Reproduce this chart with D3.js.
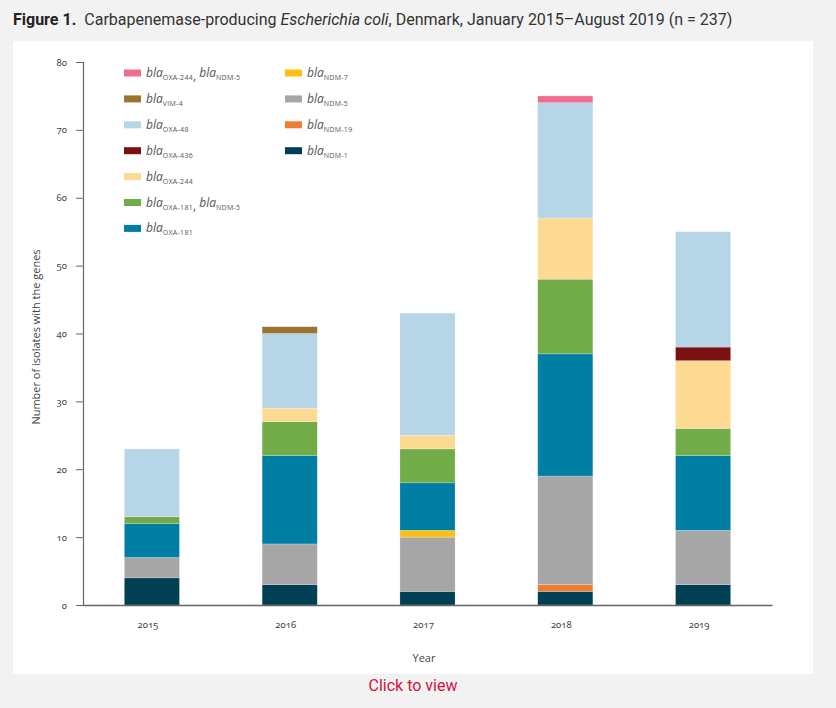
<!DOCTYPE html>
<html>
<head>
<meta charset="utf-8">
<script src="https://cdn.jsdelivr.net/npm/d3@7"></script>
<style>
  html, body { margin: 0; padding: 0; background: #f2f2f2; }
  svg { display: block; }
</style>
</head>
<body>
<svg id="chart" width="836" height="708"></svg>
<script>
// ---- Data ----
const years = ["2015", "2016", "2017", "2018", "2019"];
const ndm1       = [4, 3, 2, 2, 3];
const ndm19      = [0, 0, 0, 1, 0];
const ndm5       = [3, 6, 8, 16, 8];
const ndm7       = [0, 0, 1, 0, 0];
const oxa181     = [5, 13, 7, 18, 11];
const oxa181ndm5 = [1, 5, 5, 11, 4];
const oxa244     = [0, 2, 2, 9, 10];
const oxa436     = [0, 0, 0, 0, 2];
const oxa48      = [10, 11, 18, 17, 17];
const vim4       = [0, 1, 0, 0, 0];
const oxa244ndm5 = [0, 0, 0, 1, 0];
const yTicks = [0, 10, 20, 30, 40, 50, 60, 70, 80];

// series, bottom to top of the stack
const seriesKeys = ["ndm1","ndm19","ndm5","ndm7","oxa181","oxa181ndm5","oxa244","oxa436","oxa48","vim4","oxa244ndm5"];
const seriesValues = {ndm1, ndm19, ndm5, ndm7, oxa181, oxa181ndm5, oxa244, oxa436, oxa48, vim4, oxa244ndm5};
const seriesGenes = {
  ndm1: ["NDM-1"], ndm19: ["NDM-19"], ndm5: ["NDM-5"], ndm7: ["NDM-7"],
  oxa181: ["OXA-181"], oxa181ndm5: ["OXA-181", "NDM-5"], oxa244: ["OXA-244"],
  oxa436: ["OXA-436"], oxa48: ["OXA-48"], vim4: ["VIM-4"], oxa244ndm5: ["OXA-244", "NDM-5"]
};
const seriesColors = {
  ndm1: "#003f54", ndm19: "#ee7d31", ndm5: "#a6a6a6", ndm7: "#fdc010",
  oxa181: "#007ea3", oxa181ndm5: "#71ac48", oxa244: "#fdda92", oxa436: "#7a1214",
  oxa48: "#b6d5e6", vim4: "#9a7430", oxa244ndm5: "#f06d8c"
};
const legendCol1 = ["oxa244ndm5","vim4","oxa48","oxa436","oxa244","oxa181ndm5","oxa181"];
const legendCol2 = ["ndm7","ndm5","ndm19","ndm1"];

const table = years.map((yr, i) => {
  const row = {year: yr};
  seriesKeys.forEach(k => row[k] = seriesValues[k][i]);
  return row;
});

// ---- Layout ----
const svg = d3.select("#chart");
svg.append("rect").attr("x", 13).attr("y", 41).attr("width", 800).attr("height", 633).attr("fill", "#ffffff");

// title
const title = svg.append("text").attr("x", 13).attr("y", 25)
  .attr("font-family", "Roboto, sans-serif").attr("font-size", 16).attr("fill", "#333");
title.append("tspan").attr("font-weight", "bold").attr("fill", "#222").text("Figure 1.");
title.append("tspan").attr("dx", 8).text("Carbapenemase-producing ");
title.append("tspan").attr("font-style", "italic").text("Escherichia coli");
title.append("tspan").text(", Denmark, January 2015\u2013August 2019 (n = 237)");

const mLeft = 83, mRight = 772, mTop = 62, mBottom = 605;

const x = d3.scaleBand().domain(years).range([mLeft, mRight]).paddingInner(0.6).paddingOuter(0.3);
const y = d3.scaleLinear().domain([0, 80]).range([mBottom, mTop]);

const stacked = d3.stack().keys(seriesKeys)(table);

const g = svg.append("g");
g.selectAll("g.series").data(stacked).join("g")
  .attr("class", "series")
  .attr("fill", d => seriesColors[d.key])
  .selectAll("rect").data(d => d.filter(p => p[1] > p[0])).join("rect")
  .attr("x", d => x(d.data.year))
  .attr("width", x.bandwidth())
  .attr("y", d => y(d[1]))
  .attr("height", d => y(d[0]) - y(d[1]))
  .attr("stroke", "#ffffff").attr("stroke-opacity", 0.35).attr("stroke-width", 0.6);

// y axis
const yAxis = svg.append("g").attr("transform", `translate(${mLeft},0)`)
  .call(d3.axisLeft(y).tickValues(yTicks).tickSize(7).tickPadding(9));
yAxis.select(".domain").attr("stroke", "#666").attr("stroke-width", 1.2);
yAxis.selectAll(".tick line").attr("stroke", "#666");
yAxis.selectAll(".tick text").attr("font-family", "'Noto Sans', sans-serif").attr("font-size", 9.5)
  .attr("fill", "#444").style("font-variant-numeric", "oldstyle-nums");

// x axis
const xAxis = svg.append("g").attr("transform", `translate(0,${mBottom})`)
  .call(d3.axisBottom(x).tickSize(0).tickPadding(16));
xAxis.select(".domain").attr("stroke", "#666").attr("stroke-width", 1.6);
xAxis.selectAll(".tick text").attr("font-family", "'Noto Sans', sans-serif").attr("font-size", 9.5)
  .attr("fill", "#444").attr("dx", -4).style("font-variant-numeric", "oldstyle-nums");

// axis titles
svg.append("text").attr("x", 424).attr("y", 662).attr("text-anchor", "middle")
  .attr("font-family", "'Open Sans', sans-serif").attr("font-size", 11).attr("fill", "#444").text("Year");
svg.append("text").attr("transform", "translate(40,337) rotate(-90)").attr("text-anchor", "middle")
  .attr("font-family", "'Open Sans', sans-serif").attr("font-size", 11).attr("fill", "#444")
  .text("Number of isolates with the genes");

// legend
function drawLegend(keys, x0) {
  keys.forEach((k, i) => {
    const cy = 73 + i * 25.9;
    svg.append("rect").attr("x", x0).attr("y", cy - 3.5).attr("width", 17).attr("height", 7)
      .attr("fill", seriesColors[k]);
    const t = svg.append("text").attr("x", x0 + 22).attr("y", cy + 4)
      .attr("font-family", "'Open Sans', sans-serif").attr("fill", "#555");
    seriesGenes[k].forEach((gene, j) => {
      if (j > 0) t.append("tspan").attr("font-size", 12).text(",\u00a0");
      t.append("tspan").attr("font-size", 12).attr("font-style", "italic").attr("dy", j > 0 ? -3 : null).text("bla");
      t.append("tspan").attr("font-size", 7).attr("dy", 3).attr("letter-spacing", 0.3).text(gene);
    });
  });
}
drawLegend(legendCol1, 124);
drawLegend(legendCol2, 285);

// footer link
svg.append("text").attr("x", 413).attr("y", 691).attr("text-anchor", "middle")
  .attr("font-family", "Roboto, sans-serif").attr("font-size", 16).attr("fill", "#d5123c").text("Click to view");
</script>
</body>
</html>
